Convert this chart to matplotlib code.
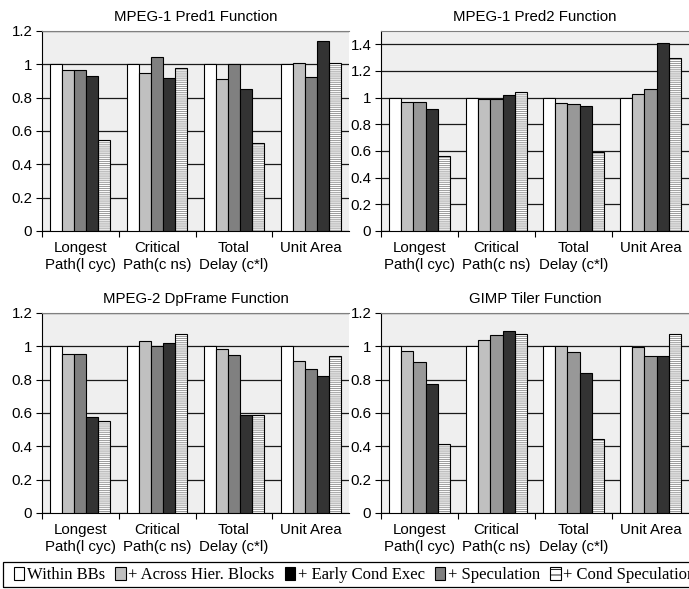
import matplotlib
matplotlib.use('Agg')
import matplotlib.pyplot as plt
from matplotlib.patches import Patch, Rectangle
from matplotlib.ticker import FormatStrFormatter
import numpy as np

plt.rcParams['font.family'] = ['Liberation Sans', 'DejaVu Sans']
plt.rcParams['hatch.linewidth'] = 0.6

categories = ['Longest\nPath(l cyc)', 'Critical\nPath(c ns)', 'Total\nDelay (c*l)', 'Unit Area']

# bar order inside each group
series = ['Within BBs', '+ Across Hier. Blocks', '+ Speculation',
          '+ Early Cond Exec', '+ Cond Speculation']
legend_order = [0, 1, 3, 2, 4]

# rows follow the bar order above
pred1 = [
    [1.00, 1.00, 1.00, 1.00],
    [0.965, 0.946, 0.912, 1.01],
    [0.965, 1.042, 1.005, 0.925],
    [0.93, 0.92, 0.852, 1.143],
    [0.544, 0.976, 0.53, 1.008],
]
pred2 = [
    [1.00, 1.00, 1.00, 1.00],
    [0.97, 0.99, 0.96, 1.025],
    [0.97, 0.99, 0.955, 1.062],
    [0.918, 1.02, 0.935, 1.41],
    [0.566, 1.045, 0.59, 1.30],
]
dpframe = [
    [1.00, 1.00, 1.00, 1.00],
    [0.955, 1.03, 0.983, 0.912],
    [0.952, 1.00, 0.949, 0.866],
    [0.575, 1.022, 0.588, 0.822],
    [0.55, 1.072, 0.587, 0.94],
]
gimp = [
    [1.00, 1.00, 1.00, 1.00],
    [0.97, 1.04, 1.005, 0.995],
    [0.905, 1.066, 0.965, 0.942],
    [0.772, 1.09, 0.838, 0.94],
    [0.415, 1.077, 0.445, 1.072],
]

titles = ['MPEG-1 Pred1 Function', 'MPEG-1 Pred2 Function',
          'MPEG-2 DpFrame Function', 'GIMP Tiler Function']
ylims = [1.2, 1.5, 1.2, 1.2]
yticks_top = [1.2, 1.4, 1.2, 1.2]

W, H = 689, 589
fig = plt.figure(figsize=(W / 100, H / 100), dpi=100)

# axes boxes in pixels: left, top, width, height
boxes = [(42, 31, 307, 200), (381, 31, 308, 200),
         (42, 313, 307, 200), (381, 313, 308, 200)]
mid_grays = ['#808080', '#989898', '#808080', '#989898']

bw = 0.156
x = np.arange(len(categories)) + 0.5

for k, data in enumerate([pred1, pred2, dpframe, gimp]):
    l, t, w, h = boxes[k]
    ax = fig.add_axes([l / W, (H - t - h) / H, w / W, h / H])
    ax.set_facecolor('#efefef')
    ax.set_axisbelow(True)
    colors = ['white', '#c0c0c0', mid_grays[k], '#333333', 'white']
    for i, vals in enumerate(data):
        xi = x + (i - 2) * bw
        if i == 4:
            # hatch layer in grey, black outline drawn on top
            ax.bar(xi, vals, bw, color='white', edgecolor='#8a8a8a',
                   hatch='--------', linewidth=0, zorder=2)
            ax.bar(xi, vals, bw, facecolor='none', edgecolor='black',
                   linewidth=0.8, zorder=3)
        else:
            ax.bar(xi, vals, bw, color=colors[i], edgecolor='black',
                   linewidth=0.8, zorder=3)

    ax.set_xlim(0, 4)
    ax.set_ylim(0, ylims[k])
    ax.set_yticks(np.arange(0, yticks_top[k] + 0.01, 0.2))
    ax.yaxis.set_major_formatter(FormatStrFormatter('%g'))
    ax.yaxis.grid(True, color='#1a1a1a', linewidth=0.9)
    ax.tick_params(axis='y', direction='out', length=4, width=0.8,
                   pad=3, labelsize=10.8)

    ax.set_xticks([0, 1, 2, 3])
    ax.set_xticklabels([])
    ax.set_xticks(x, minor=True)
    ax.set_xticklabels(categories, minor=True)
    ax.tick_params(axis='x', which='major', direction='out', length=4, width=0.8)
    ax.tick_params(axis='x', which='minor', length=0, pad=7.5, labelsize=10.8)

    ax.spines['right'].set_visible(False)
    ax.spines['top'].set_color('#808080')
    ax.spines['left'].set_linewidth(0.8)
    ax.spines['bottom'].set_linewidth(0.8)
    ax.set_title(titles[k], fontsize=10.8, pad=7.5)

# legend with a plain frame running off the right edge
handle_styles = [
    dict(facecolor='white', edgecolor='black'),
    dict(facecolor='#c0c0c0', edgecolor='black'),
    dict(facecolor='#808080', edgecolor='black'),
    dict(facecolor='black', edgecolor='black'),
    dict(facecolor='white', edgecolor='black', hatch='---'),
]
handles = [Patch(linewidth=0.8, **handle_styles[i]) for i in legend_order]
labels = [series[i] for i in legend_order]
fig.legend(handles, labels, loc='center left', ncol=5,
           bbox_to_anchor=(14 / W, (H - 575) / H), frameon=False,
           prop={'family': 'Liberation Serif', 'size': 12},
           handlelength=0.62, handleheight=0.8, handletextpad=0.15,
           columnspacing=0.62, borderpad=0, borderaxespad=0)
fig.add_artist(Rectangle((3 / W, 2 / H), 720 / W, 25 / H,
                         transform=fig.transFigure, fill=False,
                         edgecolor='black', linewidth=0.9))

fig.savefig('out.png', dpi=100)
